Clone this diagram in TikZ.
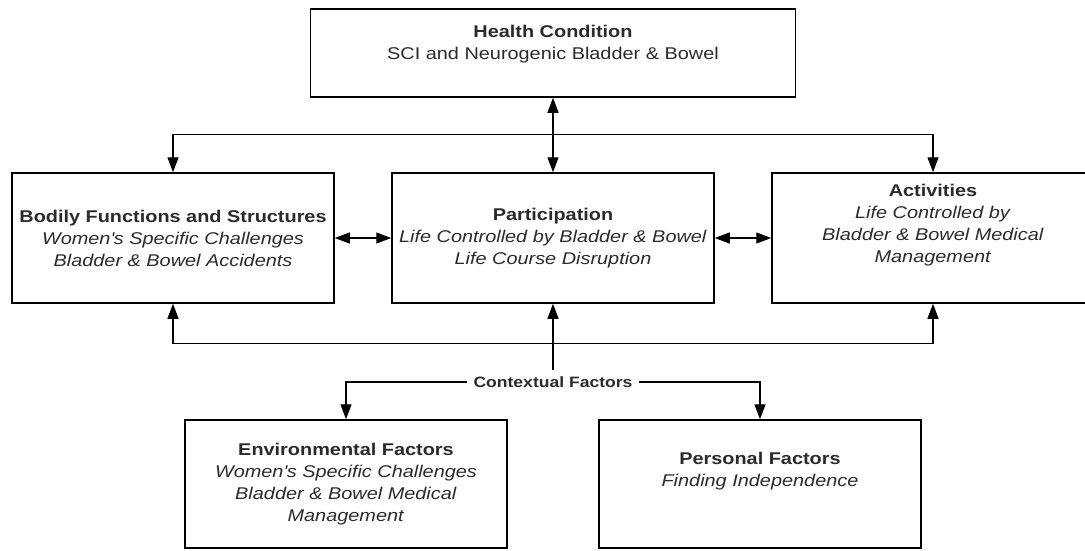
\documentclass[tikz,border=0pt]{standalone}
\usepackage{fontspec}
\setmainfont{Liberation Sans}[FakeStretch=1.17]
\usepackage{tikz}
\usetikzlibrary{shapes, arrows.meta}
\usetikzlibrary{positioning}
\definecolor{txtgray}{HTML}{2B2B2B}

\begin{document}
\begin{tikzpicture}[node distance=380pt, >={Triangle[length=15pt,width=11pt]},
  box/.style={draw, line width=1.5pt, rectangle, fill=white, text=txtgray, align=center,
    minimum width=322pt, minimum height=130pt, font=\fontsize{17}{22}\selectfont},
  link/.style={line width=1.2pt}]
\useasboundingbox (0,0) rectangle (1085pt,-550pt);
\node[box] (Part) at (553pt,-238pt) {\textbf{Participation}\\\textit{Life Controlled by Bladder \& Bowel}\\\textit{Life Course Disruption}};
\node[box] (Body) [left of=Part] {\textbf{Bodily Functions and Structures}\\\textit{Women\textquotesingle s Specific Challenges}\\\textit{Bladder \& Bowel Accidents}};
\node[box] (Act) [right of=Part] {\textbf{Activities}\\\textit{Life Controlled by}\\\textit{Bladder \& Bowel Medical}\\\textit{Management}\\[8pt]\mbox{}};
\node[box, minimum width=485pt, minimum height=88pt] (HC) [node distance=185pt, above of=Part] {\textbf{Health Condition}\\SCI and Neurogenic Bladder \& Bowel\\\mbox{}};
\node[text=txtgray, inner sep=6pt, font=\bfseries\fontsize{15}{18}\selectfont] (CF) [node distance=144pt, below of=Part] {Contextual Factors};
\node[box, minimum height=128pt] (Env) [node distance=102pt, below of=CF, xshift=-207pt] {\textbf{Environmental Factors}\\\textit{Women\textquotesingle s Specific Challenges}\\\textit{Bladder \& Bowel Medical}\\\textit{Management}};
\node[box, minimum height=128pt] (Pers) [node distance=102pt, below of=CF, xshift=207pt] {\textbf{Personal Factors}\\\textit{Finding Independence}\\[8pt]\mbox{}};
\coordinate[below=37pt of HC.south] (topbus);
\coordinate[below=40pt of Part.south] (botbus);
\draw[link, <->] (HC.south) -- (Part.north);
\draw[link, <->] (Body.north) |- (topbus) -| (Act.north);
\draw[link, <->] (Body) -- (Part);
\draw[link, <->] (Part) -- (Act);
\draw[link, <->] (Body.south) |- (botbus) -| (Act.south);
\draw[link, ->] (CF.north) -- (Part.south);
\draw[link, ->] (CF.west) -| (Env.north);
\draw[link, ->] (CF.east) -| (Pers.north);
\end{tikzpicture}
\end{document}
